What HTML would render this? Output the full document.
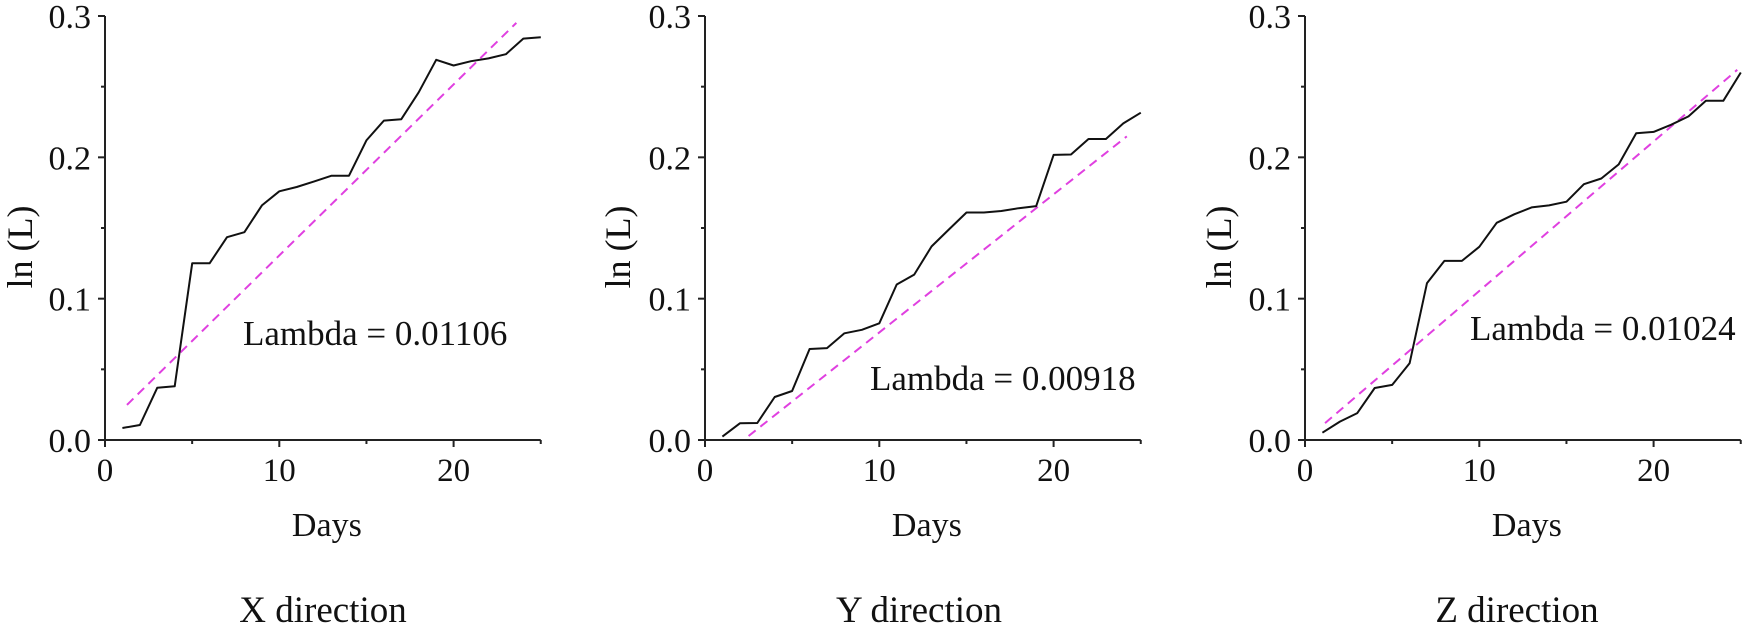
<!DOCTYPE html>
<html><head><meta charset="utf-8">
<style>
html,body{margin:0;padding:0;background:#fff;}
svg{display:block;}
text{font-family:"Liberation Serif",serif;fill:#111;}
</style></head>
<body>
<svg id="fig" width="1748" height="624" viewBox="0 0 1748 624" xmlns="http://www.w3.org/2000/svg"></svg>
<script>
const days = [1,2,3,4,5,6,7,8,9,10,11,12,13,14,15,16,17,18,19,20,21,22,23,24,25];
const xValues = [0.0085,0.0106,0.037,0.038,0.125,0.125,0.1435,0.147,0.166,0.176,0.179,0.183,0.187,0.187,0.212,0.226,0.227,0.246,0.269,0.265,0.268,0.270,0.273,0.284,0.285];
const yValues = [0.0024,0.0118,0.012,0.0304,0.0347,0.0644,0.065,0.0755,0.078,0.0826,0.110,0.117,0.137,0.149,0.161,0.161,0.162,0.164,0.1655,0.2017,0.202,0.213,0.213,0.224,0.2316];
const zValues = [0.0052,0.013,0.019,0.0368,0.039,0.0543,0.111,0.1267,0.1267,0.1367,0.1537,0.1597,0.1646,0.166,0.1686,0.181,0.185,0.195,0.217,0.218,0.223,0.229,0.240,0.240,0.260];
const fitStartDay = [1.26, 2.5, 1.15];
const fitEndDay = [23.6, 24.2, 24.8];
const fitIntercept = [0.0096, -0.0216, -0.0002];
const fitSlope = [0.0121, 0.00977, 0.01057];
const lambdaLabels = ["Lambda = 0.01106","Lambda = 0.00918","Lambda = 0.01024"];
const titles = ["X direction","Y direction","Z direction"];
const xTicks = [0,10,20];
const yTicks = [0.0,0.1,0.2,0.3];
const yTickLabels = ["0.0","0.1","0.2","0.3"];

const NS="http://www.w3.org/2000/svg";
const svg=document.getElementById('fig');
function mk(tag,attrs,parent){const e=document.createElementNS(NS,tag);for(const k in attrs)e.setAttribute(k,attrs[k]);(parent||svg).appendChild(e);return e;}

const panels=[
 {x0:105,series:xValues,lam:[243,345],title:323,ylab:20,name:'x'},
 {x0:705,series:yValues,lam:[870,390],title:919,ylab:618,name:'y'},
 {x0:1305,series:zValues,lam:[1470,340],title:1517,ylab:1219,name:'z'}
];
const Y0=440, YPER=1413.3, XPER=17.43;

panels.forEach((p,i)=>{
  const g=mk('g',{});
  
  
  const sx=d=>p.x0+d*XPER;
  const sy=v=>Y0-v*YPER;
  const ya=mk('line',{x1:p.x0,y1:sy(0.3),x2:p.x0,y2:Y0,stroke:'#222','stroke-width':2},g);
  
  
  const xa=mk('line',{x1:p.x0-7,y1:Y0,x2:sx(25),y2:Y0,stroke:'#222','stroke-width':2},g);
  
  
  for(let v=0;v<=0.3001;v+=0.05){
    const major=Math.abs(v*10-Math.round(v*10))<1e-6;
    mk('line',{x1:p.x0-(major?7:4),y1:sy(v),x2:p.x0,y2:sy(v),stroke:'#222','stroke-width':2},g);
  }
  yTicks.forEach((v,k)=>{
    const t=mk('text',{x:p.x0-14,y:sy(v)+12,'text-anchor':'end','font-size':34},g);
    t.textContent=yTickLabels[k];
    
    
  });
  for(let d=0;d<=25;d+=5){
    const major=d%10===0;
    mk('line',{x1:sx(d),y1:Y0,x2:sx(d),y2:Y0+(major?7:4),stroke:'#222','stroke-width':2},g);
  }
  xTicks.forEach(d=>{
    const t=mk('text',{x:sx(d),y:481,'text-anchor':'middle','font-size':33},g);
    t.textContent=String(d);
    
    
  });
  const fl=mk('line',{x1:sx(fitStartDay[i]),y1:sy(fitIntercept[i]+fitSlope[i]*fitStartDay[i]),x2:sx(fitEndDay[i]),y2:sy(fitIntercept[i]+fitSlope[i]*fitEndDay[i]),stroke:'#e040e0','stroke-width':2,'stroke-dasharray':'9,6'},g);
  
  
  const pts=days.map((d,k)=>sx(d).toFixed(1)+','+sy(p.series[k]).toFixed(1)).join(' ');
  const pl=mk('polyline',{points:pts,fill:'none',stroke:'#111','stroke-width':2,'stroke-linejoin':'round'},g);
  
  
  const lt=mk('text',{x:p.lam[0],y:p.lam[1],'font-size':35},g);
  lt.textContent=lambdaLabels[i];
  
  
  const xt=mk('text',{x:sx(12.5)+4,y:536,'text-anchor':'middle','font-size':34},g);
  xt.textContent='Days';
  
  
  const yt=mk('text',{x:0,y:0,'text-anchor':'middle','font-size':36,transform:'translate('+(p.ylab+12)+',247) rotate(-90)'},g);
  yt.textContent='ln (L)';
  
  
  const tt=mk('text',{x:p.title,y:622,'text-anchor':'middle','font-size':37},g);
  tt.textContent=titles[i];
  
  
});
</script>
</body></html>
